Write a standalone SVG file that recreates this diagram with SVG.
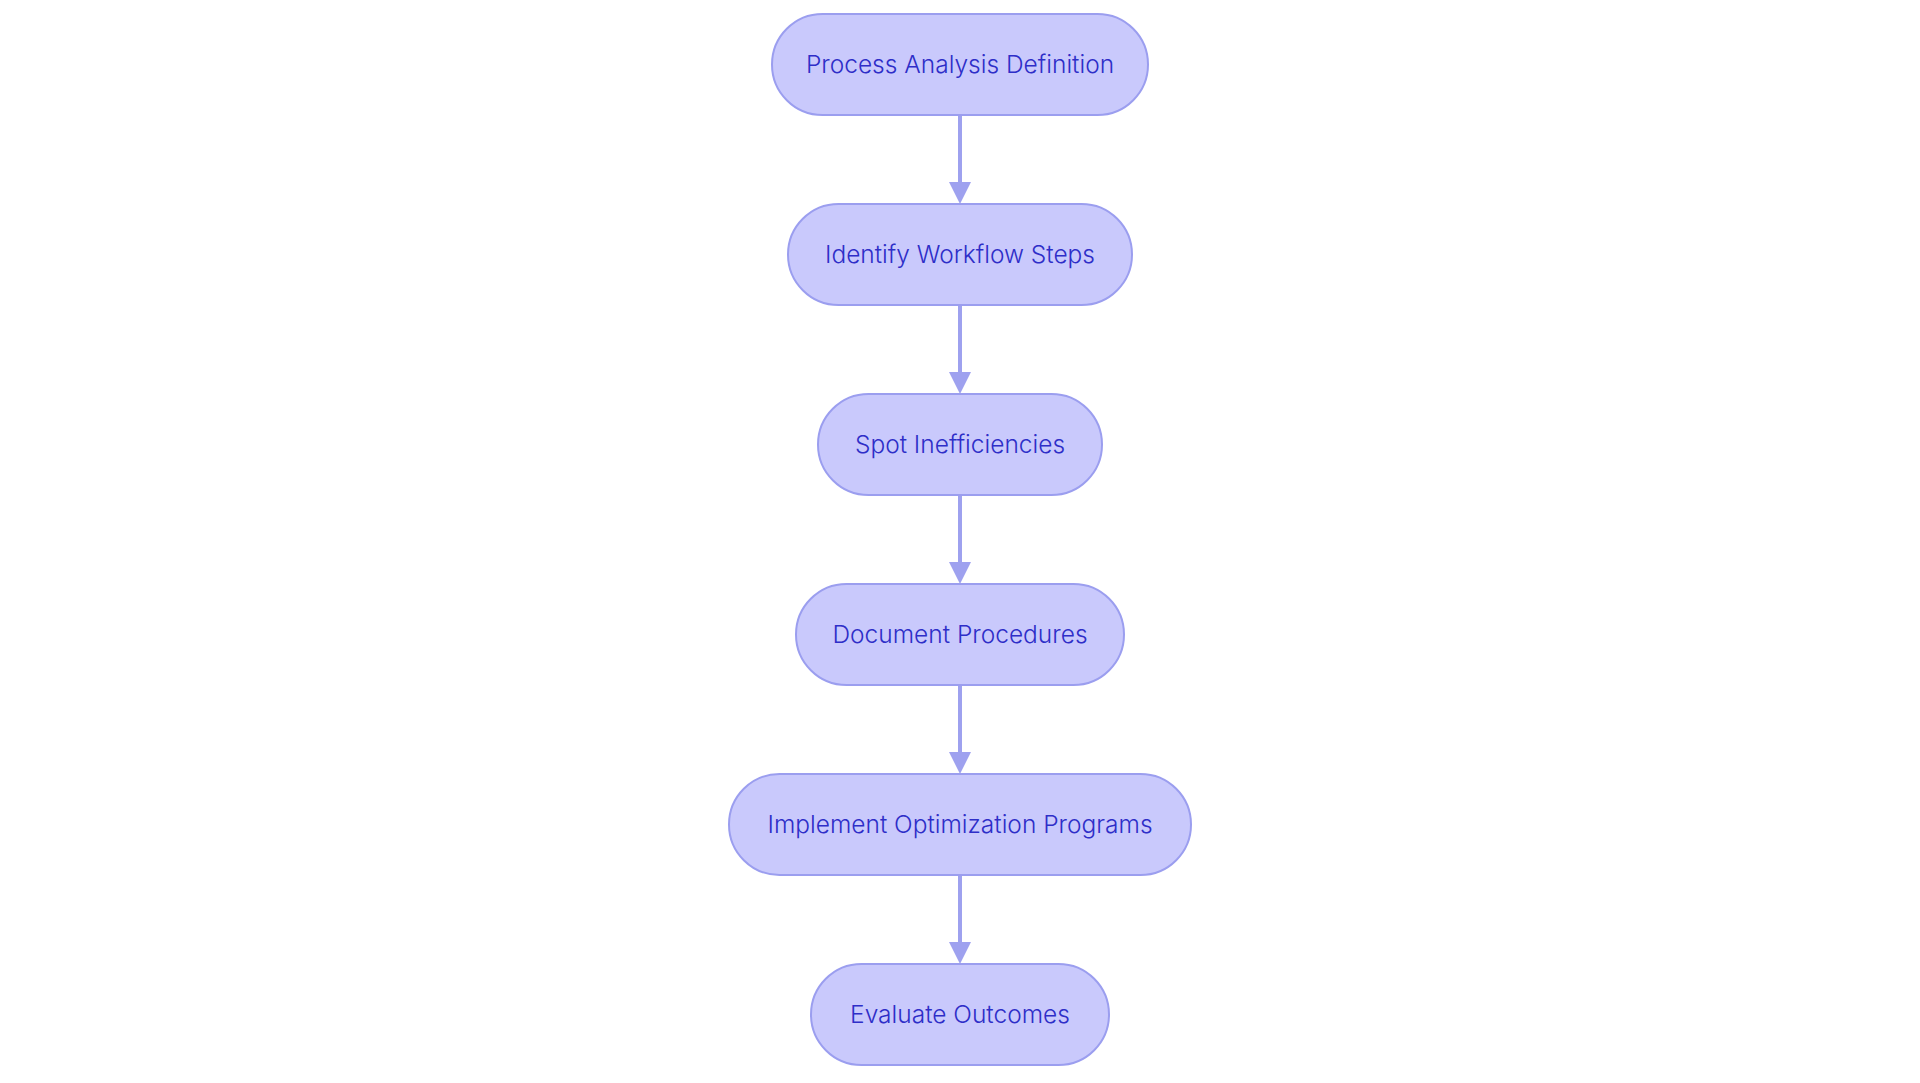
<svg xmlns="http://www.w3.org/2000/svg" width="1920" height="1083" viewBox="0 0 1920 1083">
<style>
.node rect{fill:#c9c9fc;stroke:#9b9eef;stroke-width:2}
.node text{font-family:Inter,"Noto Sans","Liberation Sans",sans-serif;font-size:24.5px;font-weight:300;fill:#2e2ec8;text-anchor:middle;dominant-baseline:central}
.edge{stroke:#9ea1ef;stroke-width:4;fill:none}
.head{fill:#9ea1ef}
</style>
<rect width="1920" height="1083" fill="#ffffff"/>
<g id="connectors">
<line class="edge" x1="960" y1="115" x2="960" y2="184"/><polygon class="head" points="949,182 971,182 960,204"/>
<line class="edge" x1="960" y1="305" x2="960" y2="374"/><polygon class="head" points="949,372 971,372 960,394"/>
<line class="edge" x1="960" y1="495" x2="960" y2="564"/><polygon class="head" points="949,562 971,562 960,584"/>
<line class="edge" x1="960" y1="685" x2="960" y2="754"/><polygon class="head" points="949,752 971,752 960,774"/>
<line class="edge" x1="960" y1="875" x2="960" y2="944"/><polygon class="head" points="949,942 971,942 960,964"/>
</g>
<g id="n1" class="node"><rect x="772" y="14" width="376" height="101" rx="50.5"/><text x="960" y="63.5">Process Analysis Definition</text></g>
<g id="n2" class="node"><rect x="788" y="204" width="344" height="101" rx="50.5"/><text x="960" y="253.5">Identify Workflow Steps</text></g>
<g id="n3" class="node"><rect x="818" y="394" width="284" height="101" rx="50.5"/><text x="960" y="443.5">Spot Inefficiencies</text></g>
<g id="n4" class="node"><rect x="796" y="584" width="328" height="101" rx="50.5"/><text x="960" y="633.5">Document Procedures</text></g>
<g id="n5" class="node"><rect x="729" y="774" width="462" height="101" rx="50.5"/><text x="960" y="823.5">Implement Optimization Programs</text></g>
<g id="n6" class="node"><rect x="811" y="964" width="298" height="101" rx="50.5"/><text x="960" y="1013.5">Evaluate Outcomes</text></g>
</svg>
